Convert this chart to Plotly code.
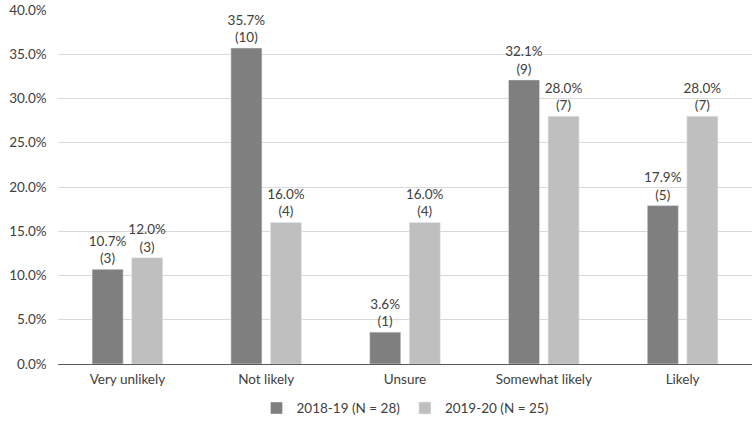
import plotly.graph_objects as go

categories = ["Very unlikely", "Not likely", "Unsure", "Somewhat likely", "Likely"]
s1_name = "2018-19 (N = 28)"
s1_pct = [10.7, 35.7, 3.6, 32.1, 17.9]
s1_n = [3, 10, 1, 9, 5]
s2_name = "2019-20 (N = 25)"
s2_pct = [12.0, 16.0, 16.0, 28.0, 28.0]
s2_n = [3, 4, 4, 7, 7]
tick_vals = [0, 5, 10, 15, 20, 25, 30, 35, 40]
tick_text = ["0.0%", "5.0%", "10.0%", "15.0%", "20.0%", "25.0%", "30.0%", "35.0%", "40.0%"]

font_fam = "Lato, 'Open Sans', sans-serif"
txt_col = "#404040"

fig = go.Figure()
for name, pct, n, col in [(s1_name, s1_pct, s1_n, "#7f7f7f"), (s2_name, s2_pct, s2_n, "#bfbfbf")]:
    fig.add_trace(go.Bar(
        x=categories, y=pct, name=name, marker_color=col,
        customdata=n,
        texttemplate="%{y:.1f}%<br>(%{customdata})",
        textposition="outside", cliponaxis=False, constraintext="none",
        textfont=dict(size=13.5, color=txt_col, family=font_fam),
    ))

pad = "\u00a0\u00a0\u00a0"
fig.update_layout(
    width=755, height=433,
    margin=dict(l=58, r=3, t=10, b=69),
    paper_bgcolor="white", plot_bgcolor="white",
    barmode="group", bargap=0.43, bargroupgap=0.215,
    font=dict(family=font_fam, size=13, color=txt_col),
    showlegend=True,
    legend=dict(orientation="h", x=0.5, xanchor="center", y=-0.125, yanchor="middle",
                font=dict(size=13.5, color=txt_col), traceorder="normal"),
    xaxis=dict(showline=False, ticks="", tickfont=dict(size=13.5), ticklabelstandoff=5),
    yaxis=dict(range=[0, 40], tickvals=tick_vals, ticktext=[t + pad for t in tick_text],
               showgrid=True, gridcolor="#d9d9d9", gridwidth=1,
               zeroline=True, zerolinecolor="#595959", zerolinewidth=1,
               ticks="", tickfont=dict(size=13.5), automargin=False),
)

fig.write_html("out.html", config={"displayModeBar": False},
               post_script="document.body.style.margin='0';")
